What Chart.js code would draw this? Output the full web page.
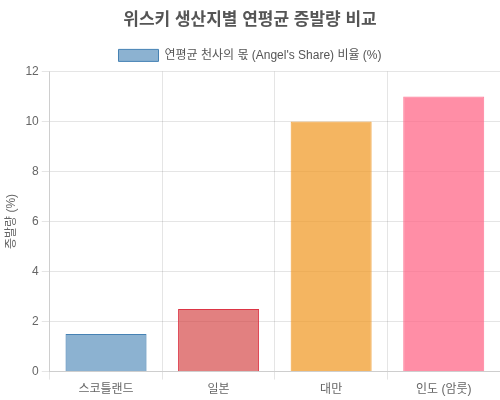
<!DOCTYPE html>
<html>
<head>
<meta charset="utf-8">
<script src="https://cdn.jsdelivr.net/npm/chart.js@4"></script>
<style>
  body { margin: 0; background: #fff; }
  #wrap { width: 500px; height: 400px; }
</style>
</head>
<body>
<div id="wrap"><canvas id="grafico"></canvas></div>
<script>
// dados do gráfico
const regioes = ['스코틀랜드', '일본', '대만', '인도 (암룻)'];
const evaporacao = [1.5, 2.5, 10, 11];
const corFundo = ['rgba(70, 130, 180, 0.62)', 'rgba(210, 60, 60, 0.65)', 'rgba(240, 150, 30, 0.7)', 'rgba(255, 99, 132, 0.72)'];
const corBorda = ['rgba(70, 130, 180, 1)', 'rgba(220, 53, 69, 1)', 'rgba(240, 150, 30, 0.8)', 'rgba(255, 99, 132, 0.8)'];

Chart.defaults.font.family = "'Liberation Sans', Arial, 'Noto Sans CJK KR', sans-serif";

const ctx = document.getElementById('grafico');
new Chart(ctx, {
    type: 'bar',
    data: {
        labels: regioes,
        datasets: [{
            label: "연평균 천사의 몫 (Angel's Share) 비율 (%)",
            data: evaporacao,
            backgroundColor: corFundo,
            borderColor: corBorda,
            borderWidth: 1
        }]
    },
    options: {
        responsive: true,
        maintainAspectRatio: false,
        animation: false,
        plugins: {
            title: {
                display: true,
                text: '위스키 생산지별 연평균 증발량 비교',
                color: '#555',
                font: { size: 17, weight: 'bold' },
                padding: { top: 10, bottom: 9 }
            },
            legend: {
                labels: { color: '#555', font: { size: 12 } }
            }
        },
        scales: {
            y: {
                beginAtZero: true,
                max: 12,
                ticks: { stepSize: 2, color: '#666' },
                title: { display: true, text: '증발량 (%)', color: '#666' }
            },
            x: {
                ticks: { color: '#666' }
            }
        }
    }
});
</script>
</body>
</html>
